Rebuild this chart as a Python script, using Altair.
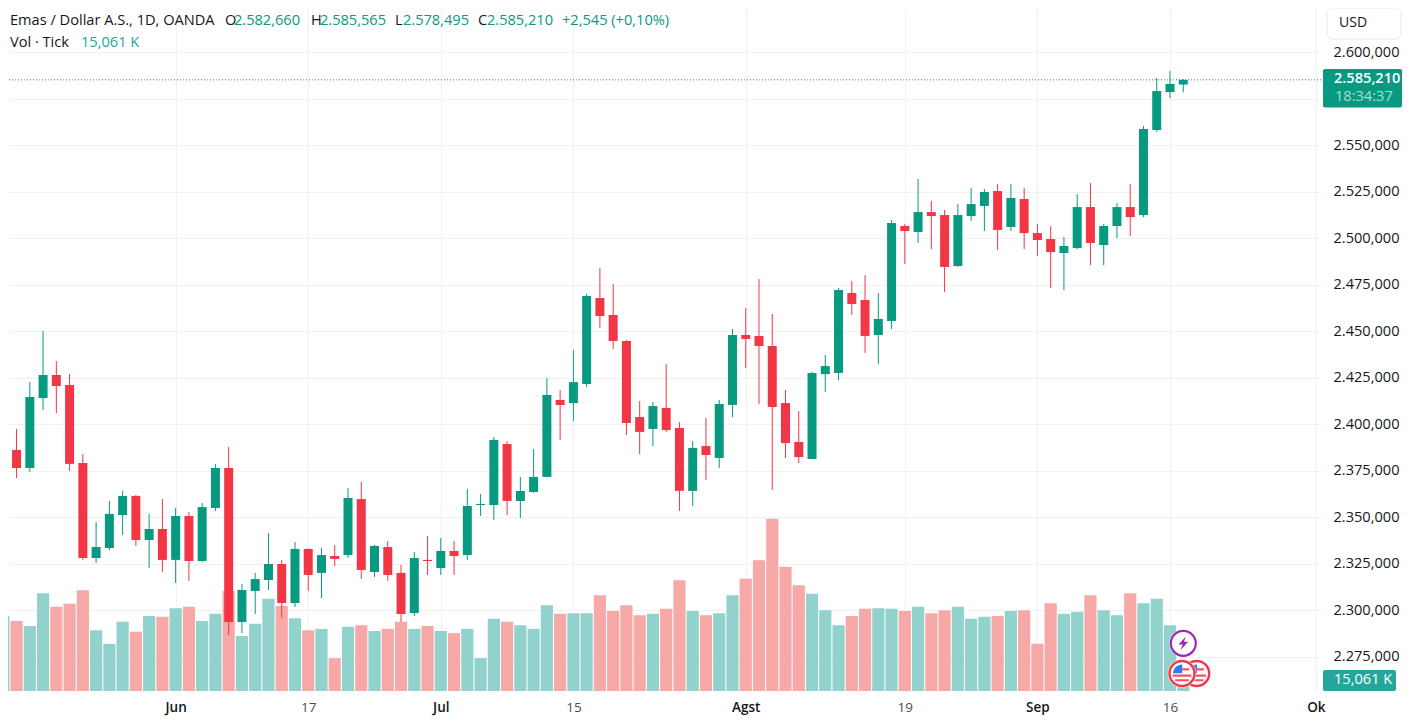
import pandas as pd
import altair as alt

# Daily candles, price in USD (thousand separators shown with "." on the chart)
opens = [2357.7,2386.2,2376.5,2414.1,2426.5,2421.1,2379.2,2328.1,2333.5,2351.2,
         2361.5,2337.8,2343.7,2327.1,2350.7,2326.5,2355.0,2376.5,2293.7,2310.4,
         2316.3,2324.9,2303.9,2333.0,2320.1,2329.2,2329.7,2359.8,2320.6,2334.0,
         2320.1,2298.5,2327.1,2322.7,2331.9,2329.7,2356.6,2356.6,2389.4,2358.8,
         2363.6,2371.7,2413.1,2411.4,2421.6,2467.9,2458.8,2444.8,2403.9,2397.5,
         2408.8,2398.0,2364.2,2388.3,2381.9,2410.4,2448.0,2447.5,2442.1,2411.4,
         2390.5,2381.4,2427.0,2427.6,2470.6,2466.8,2448.0,2455.5,2506.6,2503.4,
         2514.1,2512.5,2485.1,2512.0,2517.4,2525.4,2506.1,2521.1,2502.8,2499.6,
         2492.1,2494.8,2516.8,2496.4,2506.6,2516.8,2512.5,2558.2,2578.6,2582.66]
highs = [2390.5,2397.5,2422.8,2450.2,2434.0,2427.0,2384.0,2347.5,2358.8,2364.2,
         2362.0,2351.8,2359.8,2355.0,2352.9,2357.7,2378.7,2387.8,2314.1,2320.1,
         2341.6,2327.1,2336.7,2333.2,2333.5,2335.1,2365.8,2369.0,2335.1,2337.3,
         2324.4,2331.3,2339.9,2338.9,2337.3,2365.2,2362.5,2393.2,2391.0,2371.7,
         2386.7,2424.9,2418.4,2439.9,2470.1,2484.0,2475.4,2445.3,2412.5,2412.0,
         2432.4,2401.2,2391.0,2403.4,2413.1,2451.2,2462.5,2478.1,2459.3,2418.4,
         2407.1,2428.1,2437.2,2473.3,2477.0,2480.2,2470.6,2509.8,2507.7,2531.9,
         2520.1,2515.2,2518.4,2527.0,2526.5,2529.2,2529.2,2527.0,2507.7,2506.6,
         2500.7,2523.8,2529.7,2507.7,2519.0,2529.2,2560.4,2586.2,2589.9,2585.565]
lows = [2352.3,2371.1,2374.4,2407.7,2406.1,2374.9,2327.1,2325.4,2332.4,2340.5,
        2334.6,2322.7,2320.6,2314.7,2315.8,2326.0,2353.4,2286.7,2287.8,2298.0,
        2310.9,2295.9,2301.8,2310.4,2306.6,2323.8,2328.1,2316.8,2317.9,2315.8,
        2293.7,2296.9,2319.0,2319.0,2319.0,2327.1,2350.7,2348.6,2351.2,2349.6,
        2363.1,2371.5,2391.6,2401.8,2420.0,2451.8,2440.5,2394.2,2384.0,2388.3,
        2395.9,2353.4,2356.1,2370.0,2376.5,2403.9,2430.3,2410.9,2364.7,2381.9,
        2379.2,2381.2,2417.4,2423.8,2458.8,2438.3,2432.4,2451.2,2486.2,2497.5,
        2494.2,2471.1,2484.6,2509.3,2503.9,2493.7,2503.9,2494.2,2490.5,2473.3,
        2472.2,2494.2,2485.6,2485.6,2500.1,2501.2,2511.4,2557.2,2575.4,2578.495]
closes = [2386.2,2376.5,2414.7,2426.5,2420.6,2378.7,2328.1,2334.0,2351.8,2361.5,
          2337.8,2343.7,2327.1,2350.7,2326.5,2355.5,2376.5,2293.7,2310.9,2316.8,
          2324.9,2303.9,2333.0,2319.0,2329.7,2327.6,2360.4,2321.7,2334.6,2319.0,
          2298.0,2328.1,2326.5,2331.9,2329.2,2356.1,2357.2,2391.6,2358.8,2364.2,
          2371.7,2415.8,2410.4,2422.7,2469.0,2458.2,2444.8,2400.7,2395.9,2409.8,
          2396.9,2364.2,2387.3,2383.5,2410.9,2448.0,2445.9,2442.1,2409.3,2389.9,
          2382.4,2427.6,2431.3,2472.2,2464.7,2447.5,2456.6,2508.2,2503.9,2514.1,
          2512.0,2484.6,2512.5,2518.4,2524.9,2504.5,2521.7,2502.8,2499.1,2492.6,
          2495.9,2516.8,2497.5,2506.6,2516.8,2511.4,2558.8,2579.2,2583.0,2585.21]
# Tick volume, in thousands
volumes = [105,98,91,137,118,122,141,85,66,97,83,105,104,116,118,98,108,140,77,94,
           129,119,102,85,87,46,90,92,84,87,97,87,91,84,81,87,46,101,97,92,
           87,120,108,109,109,134,112,120,106,108,115,155,112,106,109,134,157,183,241,174,
           148,136,113,92,105,115,116,115,112,118,109,113,118,101,104,105,112,113,66,123,
           108,111,134,113,106,137,123,129,92,15.061]

price_ticks = [2275,2300,2325,2350,2375,2400,2425,2450,2475,2500,2525,2550,2575,2600]
time_tick_pos = [13,23,33,43,56,68,78,88,99]
time_tick_text = ["Jun","17","Jul","15","Agst","19","Sep","16","Ok"]
month_pos = [13,33,56,78,99]
last_price = 2585.21

UP, DOWN = "#089981", "#F23645"
VUP, VDOWN = "#92D2CC", "#F7A9A7"
INK = "#131722"
FONT = "Open Sans"
FS = 14.6

df = pd.DataFrame({"i": range(len(opens)), "open": opens, "high": highs, "low": lows,
                   "close": closes, "vol": volumes})
df["up"] = df["close"] >= df["open"]
df["top"] = df[["open", "close"]].max(axis=1)
df["bot"] = df[["open", "close"]].min(axis=1)

PW, PH = 1313, 683
xs = alt.Scale(domain=[0.3545, 99.39], nice=False, zero=False, padding=0)
ys = alt.Scale(domain=[2256.61, 2623.82], nice=False, zero=False, padding=0)
vs = alt.Scale(domain=[0, 956.2], nice=False, padding=0)
GRID = "#f1f1f4"

label_map = "{" + ",".join(f"'{p}':'{t}'" for p, t in zip(time_tick_pos, time_tick_text)) + "}"
month_test = "indexof(" + str(month_pos) + ",datum.value)>=0"

base = alt.Chart(df).mark_point(opacity=0).encode(
    x=alt.X("i:Q", scale=xs, title=None, axis=alt.Axis(
        values=time_tick_pos, labelExpr=label_map + "[''+datum.value]", grid=True, gridColor=GRID,
        domain=False, ticks=False, labelPadding=16, labelFont=FONT, labelFontSize=13.5,
        labelBaseline="middle", labelFlush=False, labelOverlap=False,
        labelColor={"condition": {"test": month_test, "value": INK}, "value": "#4a4e59"},
        labelFontWeight={"condition": {"test": month_test, "value": 600}, "value": 400})),
    y=alt.Y("close:Q", scale=ys, title=None, axis=alt.Axis(
        orient="right", values=price_ticks, grid=True, gridColor=GRID, domain=False, ticks=False,
        labelPadding=12, labelFont=FONT, labelFontSize=FS, labelColor=INK, labelOverlap=False,
        labelExpr="datum.value==2575?'':slice(format(datum.value,'.3f'),0,1)+'.'+replace(slice(format(datum.value,'.3f'),1),'.',',')")),
)

vol = alt.Chart(df).mark_bar(size=12.2, clip=True, orient="vertical").encode(
    x=alt.X("i:Q", scale=xs, axis=None),
    y=alt.Y("vol:Q", scale=vs, axis=None),
    color=alt.condition("datum.up", alt.value(VUP), alt.value(VDOWN)),
)
lastline = alt.Chart(pd.DataFrame({"p": [last_price]})).mark_rule(
    color=UP, strokeWidth=1, strokeDash=[1, 2]).encode(y=alt.Y("p:Q", scale=ys, axis=None))
wick = alt.Chart(df).mark_rule(strokeWidth=1, clip=True).encode(
    x=alt.X("i:Q", scale=xs, axis=None),
    y=alt.Y("low:Q", scale=ys, axis=None), y2="high:Q",
    color=alt.condition("datum.up", alt.value(UP), alt.value(DOWN)),
)
body = alt.Chart(df).mark_bar(size=9, clip=True, orient="vertical").encode(
    x=alt.X("i:Q", scale=xs, axis=None),
    y=alt.Y("bot:Q", scale=ys, axis=None), y2="top:Q",
    color=alt.condition("datum.up", alt.value(UP), alt.value(DOWN)),
)

one = pd.DataFrame({"a": [0]})

def txt(page_x, page_y, s, color=INK, size=FS, weight=400, opacity=1.0):
    return alt.Chart(one).mark_text(align="left", baseline="middle", font=FONT, fontSize=size,
                                    fontWeight=weight, color=color, opacity=opacity).encode(
        x=alt.value(page_x - 8), y=alt.value(page_y - 8), text=alt.value(s))

def box(x0, y0, x1, y1, fill, stroke=None, radius=0):
    kw = {"cornerRadius": radius} if radius else {}
    if stroke:
        kw["stroke"] = stroke
        kw["strokeWidth"] = 1
    return alt.Chart(one).mark_rect(color=fill, **kw).encode(
        x=alt.value(x0 - 8), x2=alt.value(x1 - 8), y=alt.value(y0 - 8), y2=alt.value(y1 - 8))

def sym(page_x, page_y, shape, size, fill=None, stroke=None, sw=0):
    kw = {}
    if stroke:
        kw.update(stroke=stroke, strokeWidth=sw)
    return alt.Chart(one).mark_point(shape=shape, size=size, filled=True, fill=fill or "transparent",
                                     opacity=1, **kw).encode(
        x=alt.value(page_x - 8), y=alt.value(page_y - 8))

header = [
    txt(10, 21, "Emas / Dollar A.S., 1D, OANDA"),
    txt(225, 21, "O"), txt(234, 21, "2.582,660", UP),
    txt(311, 21, "H"), txt(320, 21, "2.585,565", UP),
    txt(395, 21, "L"), txt(403, 21, "2.578,495", UP),
    txt(478, 21, "C"), txt(487, 21, "2.585,210", UP),
    txt(562, 21, "+2,545 (+0,10%)", UP),
    txt(10, 43, "Vol · Tick"),
    txt(81, 43, "15,061 K", "#26A69A"),
]

panel = [
    box(1327, 8, 1401, 39, "#ffffff", stroke="#e6e8f0", radius=6),
    txt(1339, 23, "USD", INK, 14),
    box(1323, 69, 1402, 107.5, UP, radius=2),
    txt(1334, 78.5, "2.585,210", "#ffffff", FS, 600),
    txt(1335, 97, "18:34:37", "#ffffff", FS, 400, 0.65),
    box(1323, 670, 1396, 691, "#26A69A", radius=2),
    txt(1334, 680, "15,061 K", "#ffffff", FS, 400),
]

CIRCLE = "M-1 0A1 1 0 1 1 1 0A1 1 0 1 1 -1 0Z"
BOLT = "M.2 -.55L-.38 .1H-.05L-.22 .55L.38 -.12H.05Z"
CANTON = "M-.72 -.02A.72 .72 0 0 1 .02 -.72V-.02Z"
STRIPES = "M.02 -.42H.58V-.25H.02ZM-.75 .08H.75V.26H-.75ZM-.55 .46H.55V.62H-.55Z"

def flag(px, py):
    return [sym(px, py, CIRCLE, 729, "#ffffff", "#ffffff", 1.5),
            sym(px, py, CIRCLE, 625, "#ffffff", "#F23645", 2.4),
            sym(px, py, STRIPES, 625, "#F7525F"),
            sym(px, py, CANTON, 625, "#3179F5")]

icons = (flag(1196.7, 673.5) + flag(1182, 673.5) + [
    sym(1183.3, 643.3, CIRCLE, 729, "#ffffff", "#ffffff", 1),
    sym(1183.3, 643.3, CIRCLE, 625, "#ffffff", "#9C27B0", 2.2),
    sym(1183.3, 643.3, BOLT, 625, "#9C27B0"),
])

chart = alt.layer(base, vol, lastline, wick, body, *icons, *header, *panel).resolve_scale(
    y="independent"
).resolve_axis(x="independent").properties(
    width=PW, height=PH,
    background="#ffffff",
    autosize=alt.AutoSizeParams(type="none"),
    padding={"left": 0, "top": 0, "right": 81, "bottom": 28},
).configure_view(stroke="transparent")

chart.save("out.html", embed_options={"renderer": "svg", "actions": False})
